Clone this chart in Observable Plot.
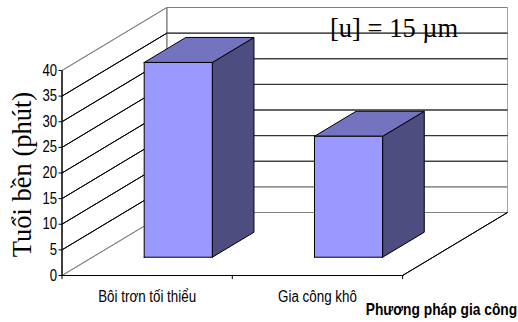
<!DOCTYPE html>
<html>
<head>
<meta charset="utf-8">
<style>html,body{margin:0;padding:0;background:#fff}svg{display:block}</style>
<script src="https://cdn.jsdelivr.net/npm/d3@7"></script>
<script src="https://cdn.jsdelivr.net/npm/@observablehq/plot@0.6"></script>
</head>
<body>
<div id="chart"></div>
<script>
// Tool life per machining method
const categories = ["Bôi trơn tối thiểu", "Gia công khô"];
const lifeValues = [38, 23.6];
const yTicks = [0, 5, 10, 15, 20, 25, 30, 35, 40];
const yTitle = "Tuổi bền (phút)";
const xTitle = "Phương pháp gia công";
const note = "[u] = 15 µm";

// Oblique projection: c runs along the floor, v up the wall, d into the depth.
const yMax = 40;
const depthX = 0.308;
const depthY = 12.29;
const project = (c, v, d = 0) => ({u: c + d * depthX, w: v + d * depthY});

const barSpan = 0.2;
const barOffset = 0.002;
const barDepth = [0.29, 0.687];
const bandCenter = i => (i + 0.5) / categories.length;

const poly = (points, options) =>
  Plot.line([...points, points[0]].map(([c, v, d]) => project(c, v, d)), {x: "u", y: "w", ...options});
const seg = (a, b, stroke) => poly([a, b], {stroke, strokeWidth: 1});

const marks = [];

// Walls and floor outline
const gray = "#808080";
marks.push(seg([0, yMax, 0], [0, yMax, 1], gray));
marks.push(seg([0, 0, 0], [0, 0, 1], gray));
marks.push(seg([0, 0, 1], [0, yMax, 1], gray));
marks.push(seg([0, yMax, 1], [1, yMax, 1], gray));
marks.push(seg([1, 0, 1], [1, yMax, 1], "#a6a6a6"));
marks.push(seg([0, 0, 1], [1, 0, 1], gray));
marks.push(seg([1, 0, 0], [1, 0, 1], "#000"));

// Grid lines on the side wall and the back wall
for (const v of yTicks.filter(t => t > 0 && t < yMax)) {
  marks.push(seg([0, v, 0], [0, v, 1], "#000"));
  marks.push(seg([0, v, 1], [1, v, 1], v <= 5 ? gray : "#333"));
}

// Front axis lines and category ticks
marks.push(seg([0, 0, 0], [0, yMax, 0], "#000"));
marks.push(seg([0, 0, 0], [1, 0, 0], "#000"));
marks.push(Plot.ruleX([0, 0.5, 1], {x: d => d, y1: 0, y2: -0.8, stroke: "#000"}));

// Solid bars: side, top, then front face
categories.forEach((name, i) => {
  const left = bandCenter(i) - barSpan / 2 + barOffset;
  const right = left + barSpan;
  const [d0, d1] = barDepth;
  const v = lifeValues[i];
  const style = {stroke: "#000", strokeWidth: 1, curve: "linear-closed"};
  marks.push(poly([[right, 0, d0], [right, 0, d1], [right, v, d1], [right, v, d0]], {...style, fill: "#4d4d80"}));
  marks.push(poly([[left, v, d0], [right, v, d0], [right, v, d1], [left, v, d1]], {...style, fill: "#7373bf"}));
  marks.push(poly([[left, 0, d0], [right, 0, d0], [right, v, d0], [left, v, d0]], {...style, fill: "#9999ff"}));
});

// Text
const label = (text, c, v, d, options) =>
  Plot.text([project(c, v, d)], {x: "u", y: "w", text: () => text, fill: "#000", ...options});

marks.push(Plot.axisY({ticks: yTicks, tickSize: 3, tickPadding: 2, label: null, fontSize: 16,
  fontFamily: "Liberation Sans", className: "narrow"}));
categories.forEach((name, i) => {
  marks.push(label(name, bandCenter(i), -4.2, 0, {fontSize: 16, fontFamily: "Liberation Sans", className: "wide"}));
});
marks.push(label(xTitle, 1.114, -6.6, 0, {fontSize: 16.5, fontWeight: "bold", fontFamily: "Liberation Sans", className: "wide"}));
marks.push(label(yTitle, -0.115, 19.7, 0, {fontSize: 26.5, rotate: -90, fontFamily: "Liberation Serif"}));
marks.push(label(note, 0.667, 35.9, 1, {fontSize: 26.5, fontFamily: "Liberation Serif"}));

const chart = Plot.plot({
  width: 518,
  height: 322,
  marginLeft: 61.5,
  marginRight: 11,
  marginTop: 7,
  marginBottom: 47,
  style: {background: "#fff", overflow: "visible"},
  x: {domain: [0, 1 + depthX], axis: null},
  y: {domain: [0, yMax + depthY], axis: null},
  marks
});
document.getElementById("chart").append(chart);

// Arial Narrow style lettering: condense the sans-serif labels
const condense = (selector, factor) => chart.querySelectorAll(selector).forEach(t => {
  t.setAttribute("textLength", t.getComputedTextLength() * factor);
  t.setAttribute("lengthAdjust", "spacingAndGlyphs");
});
condense(".narrow text, text.narrow", 0.82);
condense(".wide text, text.wide", 0.835);
</script>
</body>
</html>
